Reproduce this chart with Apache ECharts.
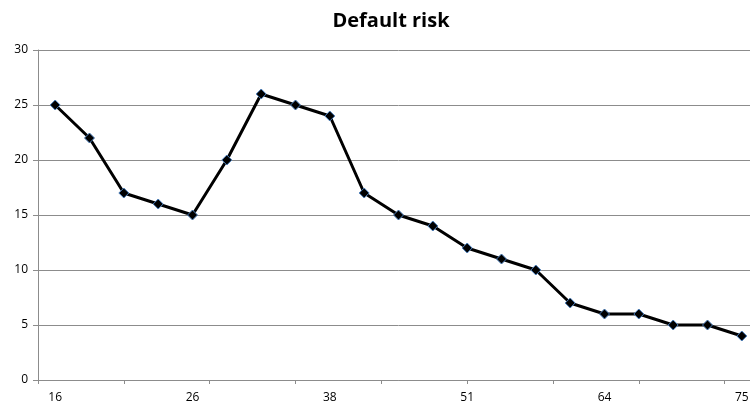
<!DOCTYPE html>
<html>
<head>
<meta charset="utf-8">
<script src="https://cdn.jsdelivr.net/npm/echarts@6/dist/echarts.min.js"></script>
<style>html,body{margin:0;padding:0;background:#fff;overflow:hidden;width:750px;height:405px}#c{width:759px;height:405px}</style>
</head>
<body>
<div id="c"></div>
<script>
const categories = ['16','19','21','24','26','29','32','35','38','41','45','48','51','54','58','61','64','67','70','73','75'];
const risk = [25,22,17,16,15,20,26,25,24,17,15,14,12,11,10,7,6,6,5,5,4];
const yTicks = [0,5,10,15,20,25,30];

const chart = echarts.init(document.getElementById('c'));
chart.setOption({
  animation: false,
  title: {
    text: 'Default risk', left: 386, top: 6, textAlign: 'center',
    textStyle: {fontFamily: 'Open Sans', fontWeight: 'bold', fontSize: 20, color: '#000'}
  },
  grid: {left: 38, right: 0, top: 50, bottom: 25},
  xAxis: [{
    type: 'category', data: categories, boundaryGap: true,
    axisLine: {lineStyle: {color: '#8c8c8c', width: 1}},
    axisTick: {show: false},
    axisLabel: {interval: 3, color: '#000', fontFamily: 'Open Sans', fontSize: 12, margin: 12}
  }, {
    type: 'value', min: 0, max: categories.length, interval: 2.5, position: 'bottom',
    axisLine: {show: false}, splitLine: {show: false}, axisLabel: {show: false},
    axisTick: {show: true, length: 4, lineStyle: {color: '#8c8c8c'}}
  }],
  yAxis: {
    type: 'value', min: yTicks[0], max: yTicks[yTicks.length-1], interval: 5,
    axisLine: {show: true, lineStyle: {color: '#8c8c8c'}},
    axisTick: {show: true, length: 5, lineStyle: {color: '#8c8c8c'}},
    splitLine: {lineStyle: {color: '#8c8c8c', width: 1}},
    axisLabel: {color: '#000', fontFamily: 'Open Sans', fontSize: 12, margin: 10}
  },
  series: [{
    type: 'line', data: risk, xAxisIndex: 0,
    symbol: 'diamond', symbolSize: 10,
    lineStyle: {color: '#000', width: 3},
    itemStyle: {color: '#000', borderColor: '#4a7ebb', borderWidth: 1},
    z: 5
  }]
});
</script>
</body>
</html>
